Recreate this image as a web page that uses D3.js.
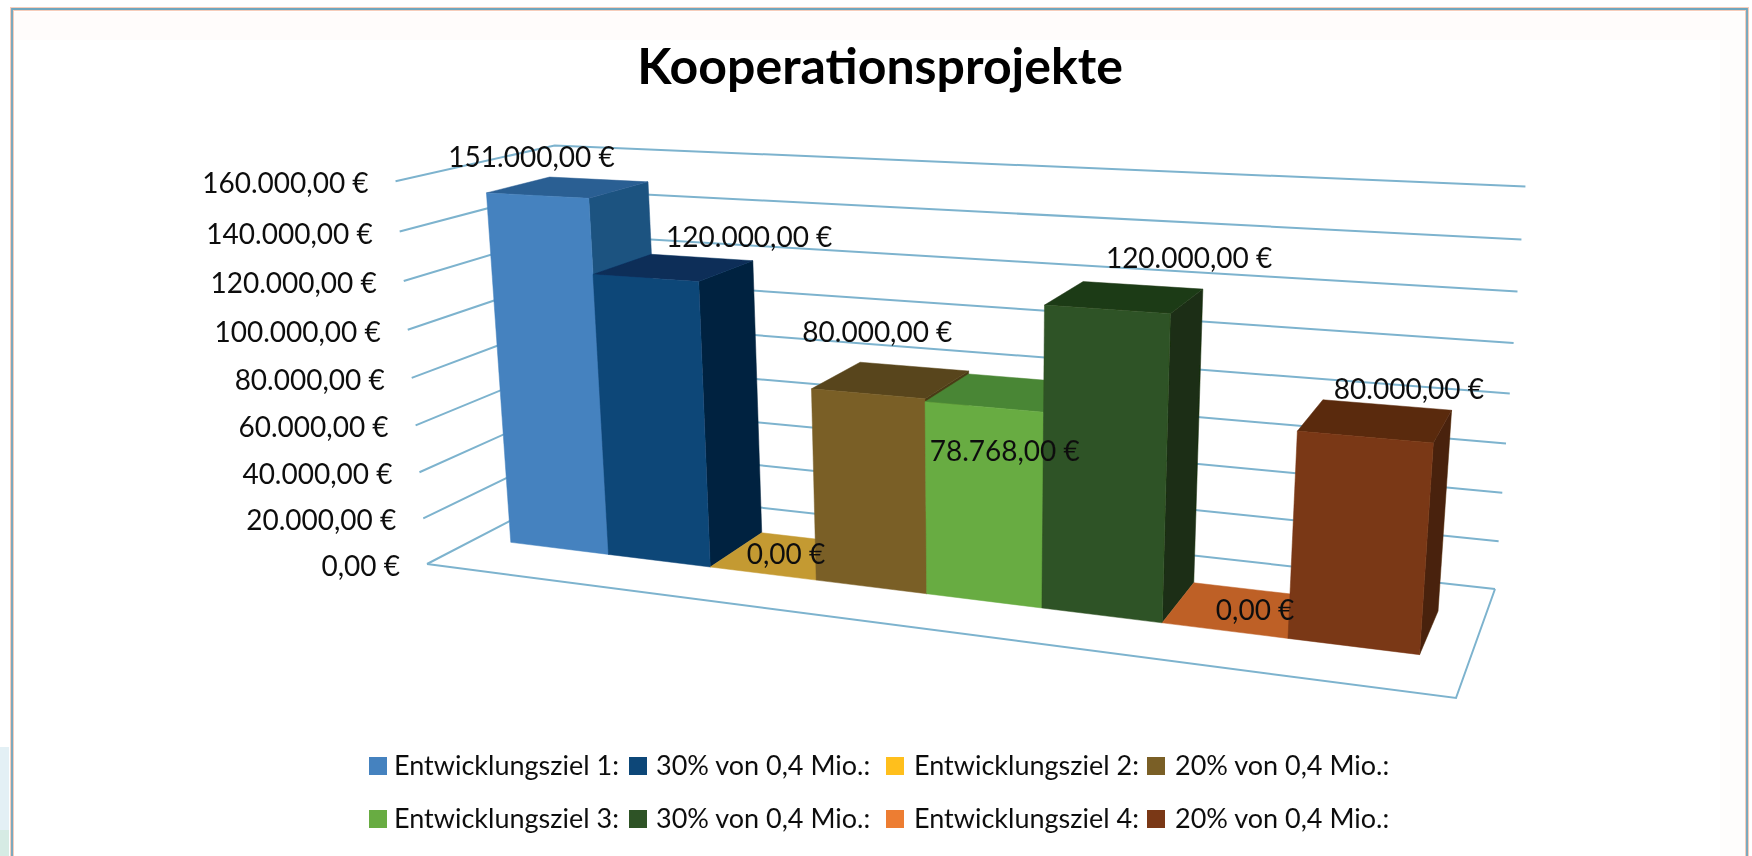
<!DOCTYPE html>
<html><head><meta charset="utf-8">
<script src="https://cdn.jsdelivr.net/npm/d3@7"></script>
<style>html,body{margin:0;background:#fff}svg{display:block}text{font-family:Lato,"Open Sans",sans-serif;fill:#111}</style>
</head><body><svg id="c" width="1752" height="856"></svg>
<script>
const title = "Kooperationsprojekte";
const categories = ["Entwicklungsziel 1:","30% von 0,4 Mio.:","Entwicklungsziel 2:","20% von 0,4 Mio.:","Entwicklungsziel 3:","30% von 0,4 Mio.:","Entwicklungsziel 4:","20% von 0,4 Mio.:"];
const values = [151000,120000,0,80000,78768,120000,0,80000];
const tickValues = [0,20000,40000,60000,80000,100000,120000,140000,160000];
const frontColors = ["#4482BF","#0E4678","#FFBF1F","#7A5F26","#68AC42","#2F5225","#ED7D31","#7A3714"];
const topColors   = ["#2B5E93","#082D58","#C49A33","#58451A","#4A8634","#1F3A17","#BE6128","#5A2B0D"];
const sideColors  = ["#1C5280","#01223F","#8F6E1A","#4A3A14","#3C6E2A","#1A2F12","#8A4519","#4A2208"];
const labelOffsets = [[-37,-20],[75,-20],[-2,8],[-14,-38],[0,69],[64,-29],[16,10],[33,-21]];
const legendRows = [[0,1,2,3],[4,5,6,7]];
const legendX = [369,629,886,1147], legendTextX = [394,656,914,1175], legendRowY = [766,819];

const uRange=[0.041,0.958], vFront=0.31, vBack=0.72;
const t = d3.scaleLinear().domain([0,160000]).range([0,1]);
const uScale = d3.scaleBand().domain(d3.range(categories.length)).range(uRange).padding(0);
const bw = uScale.bandwidth();

// camera calibration: floor corners, then reference points above the floor as seen on the picture
const floorQuad = [[427,564],[1456,698],[1495,589],[575,487]]; // (u,v)=(0,0),(1,0),(1,1),(0,1)
const topRefs = [[0,0,1,[398,178]],[0,1,1,[547,139]],[1,1,1,[1523,196]],
  [uScale(7)+bw,vFront,t(80000),[1431,449]],[uScale(5)+bw,vFront,t(120000),[1175,319]],
  [uScale(0),vFront,t(151000),[489,190]],[uScale(1),vFront,t(120000),[598,272]]];

function solve(A,b){const n=b.length,M=A.map((r,i)=>[...r,b[i]]);
  for(let i=0;i<n;i++){let p=i;for(let r=i+1;r<n;r++)if(Math.abs(M[r][i])>Math.abs(M[p][i]))p=r;[M[i],M[p]]=[M[p],M[i]];
    for(let r=0;r<n;r++)if(r!==i){const f=M[r][i]/M[i][i];for(let c=i;c<=n;c++)M[r][c]-=f*M[i][c];}}
  return M.map((r,i)=>r[n]/r[i]);}
const uv=[[0,0],[1,0],[1,1],[0,1]],A8=[],b8=[];
floorQuad.forEach(([x,y],i)=>{const [u,v]=uv[i];
  A8.push([u,v,1,0,0,0,-u*x,-v*x]);b8.push(x);A8.push([0,0,0,u,v,1,-u*y,-v*y]);b8.push(y);});
const h=solve(A8,b8);h.push(1);
const A3=[],b3=[];
topRefs.forEach(([u,v,tt,[x,y]])=>{const X=h[0]*u+h[1]*v+h[2],Y=h[3]*u+h[4]*v+h[5],W=h[6]*u+h[7]*v+h[8];
  A3.push([tt,0,-x*tt]);b3.push(x*W-X);
  A3.push([0,tt,-y*tt]);b3.push(y*W-Y);});
const At=[0,1,2].map(i=>[0,1,2].map(j=>d3.sum(A3,r=>r[i]*r[j]))),Ab=[0,1,2].map(i=>d3.sum(A3,(r,k)=>r[i]*b3[k]));
const c=solve(At,Ab);
function project(u,v,tt){const W=h[6]*u+h[7]*v+h[8]+c[2]*tt;
  return [(h[0]*u+h[1]*v+h[2]+c[0]*tt)/W,(h[3]*u+h[4]*v+h[5]+c[1]*tt)/W];}

const euro = d3.formatLocale({decimal:",",thousands:".",grouping:[3],currency:[""," €"]}).format("$,.2f");

const svg=d3.select("#c");
const defs=svg.append("defs");
defs.append("filter").attr("id","soft").append("feGaussianBlur").attr("stdDeviation",0.7);
// frame and page tints
svg.append("rect").attr("x",0).attr("y",747).attr("width",9).attr("height",83).attr("fill","#E3F0F5");
svg.append("rect").attr("x",0).attr("y",830).attr("width",9).attr("height",26).attr("fill","#D6EBE4");
svg.append("rect").attr("x",14).attr("y",12).attr("width",1732).attr("height",28).attr("fill","#FFFCFB");
svg.append("rect").attr("x",1720).attr("y",12).attr("width",26).attr("height",844).attr("fill","#FEFDFC");
svg.append("path").attr("d","M12,856V9H1747V856").attr("fill","none").attr("stroke","#F6CDBB").attr("stroke-width",4);
svg.append("path").attr("d","M12,856V9H1747V856").attr("fill","none").attr("stroke","#6FA6BE").attr("stroke-width",1.8);

const g=svg.append("g").attr("filter","url(#soft)");
g.append("text").attr("x",880).attr("y",84).attr("text-anchor","middle").attr("font-size",50).attr("font-weight",700).style("fill","#000").text(title);

const line=d3.line();
const grid=g.append("g").attr("fill","none").attr("stroke","#7DB3CE").attr("stroke-width",2);
grid.selectAll("path.g").data(tickValues).join("path").attr("class","g")
  .attr("d",d=>line([project(0,0,t(d)),project(0,1,t(d)),project(1,1,t(d))]));
grid.append("path").attr("d",line([project(0,0,0),project(1,0,0),project(1,1,0)]));

g.append("g").selectAll("text").data(tickValues).join("text")
  .attr("x",d=>project(0,0,t(d))[0]-27).attr("y",d=>project(0,0,t(d))[1]+12)
  .attr("text-anchor","end").attr("font-size",28).text(euro);

const bars=g.append("g").selectAll("g").data(values).join("g");
const corner=(i,vv,val,side)=>project(uScale(i)+(side?bw:0),vv,t(val));
bars.each(function(val,i){
  const s=d3.select(this);
  const poly=(pts,col)=>s.append("path").attr("d",line(pts)+"Z").attr("fill",col).attr("stroke",col).attr("stroke-width",0.5);
  if(val>0) poly([corner(i,vBack,0,1),corner(i,vFront,0,1),corner(i,vFront,val,1),corner(i,vBack,val,1)],sideColors[i]);
  poly([corner(i,vFront,val,0),corner(i,vFront,val,1),corner(i,vBack,val,1),corner(i,vBack,val,0)],topColors[i]);
  if(val>0) poly([corner(i,vFront,0,0),corner(i,vFront,0,1),corner(i,vFront,val,1),corner(i,vFront,val,0)],frontColors[i]);
});
g.append("g").selectAll("text").data(values).join("text")
  .attr("x",(d,i)=>project(uScale(i)+bw/2,(vFront+vBack)/2,t(d))[0]+labelOffsets[i][0])
  .attr("y",(d,i)=>project(uScale(i)+bw/2,(vFront+vBack)/2,t(d))[1]+labelOffsets[i][1])
  .attr("text-anchor","middle").attr("font-size",28).text(euro);

const leg=g.append("g");
legendRows.forEach((row,r)=>row.forEach((idx,k)=>{
  leg.append("rect").attr("x",legendX[k]).attr("y",legendRowY[r]-9).attr("width",18).attr("height",18).attr("fill",frontColors[idx]);
  leg.append("text").attr("x",legendTextX[k]).attr("y",legendRowY[r]+9).attr("font-size",27).text(categories[idx]);
}));
</script></body></html>
